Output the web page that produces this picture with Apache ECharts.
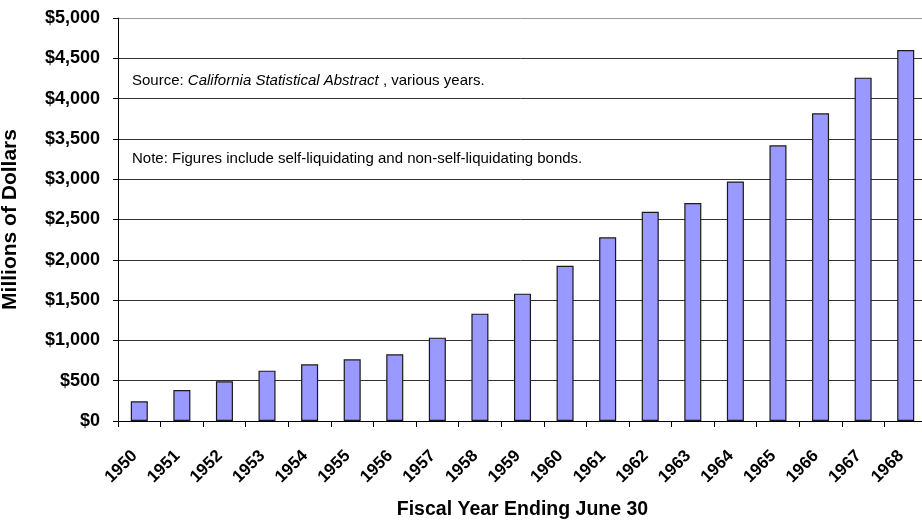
<!DOCTYPE html>
<html>
<head>
<meta charset="utf-8">
<script src="https://cdn.jsdelivr.net/npm/echarts@6/dist/echarts.min.js"></script>
<style>
  html, body { margin: 0; padding: 0; background: #fff; }
  #chart { width: 922px; height: 521px; }
</style>
</head>
<body>
<div id="chart"></div>
<script>
// Fiscal years (ending June 30)
const years = ['1950','1951','1952','1953','1954','1955','1956','1957','1958','1959',
               '1960','1961','1962','1963','1964','1965','1966','1967','1968'];
// Bonded debt outstanding, millions of dollars
const debt = [245, 385, 493, 625, 703, 765, 827, 1034, 1332, 1580,
              1927, 2279, 2597, 2705, 2972, 3420, 3817, 4260, 4603];
// Value axis ticks
const yMin = 0, yMax = 5000, yStep = 500;

const FONT = '"Liberation Sans", Arial, sans-serif';

const gridColors = [];
for (let v = yMin; v <= yMax; v += yStep) gridColors.push(v === yMax ? '#9a9a9a' : '#333');

const chart = echarts.init(document.getElementById('chart'), null, { renderer: 'canvas' });
chart.setOption({
  animation: false,
  backgroundColor: '#fff',
  grid: { left: 118, right: -5, top: 18, bottom: 100, containLabel: false, outerBoundsMode: 'none' },
  xAxis: {
    type: 'category',
    data: years,
    boundaryGap: true,
    name: 'Fiscal Year Ending June 30',
    nameLocation: 'middle',
    nameGap: 79,
    nameTextStyle: { fontFamily: FONT, fontWeight: 'bold', fontSize: 19.5, color: '#000', verticalAlign: 'top' },
    axisLine: { show: true, onZero: false, lineStyle: { color: '#000', width: 1 } },
    axisTick: { show: true, alignWithLabel: false, length: 6, inside: false, lineStyle: { color: '#000', width: 1, opacity: 1 } },
    axisLabel: {
      rotate: 45, margin: 10, interval: 0,
      formatter: v => '{y|' + v + '}',
      rich: { y: { padding: [25, 19, 0, 0], fontFamily: FONT, fontWeight: 'bold', fontSize: 17, color: '#000' } },
      fontFamily: FONT, fontWeight: 'bold', fontSize: 17, color: '#000'
    },
    splitLine: { show: false }
  },
  yAxis: {
    type: 'value',
    min: yMin, max: yMax, interval: yStep,
    name: 'Millions of Dollars',
    nameLocation: 'middle',
    nameGap: 97,
    nameRotate: 90,
    nameTextStyle: { fontFamily: FONT, fontWeight: 'bold', fontSize: 21, color: '#000' },
    axisLine: { show: true, lineStyle: { color: '#000', width: 1 } },
    axisTick: { show: true, length: 5, inside: false, lineStyle: { color: '#000' } },
    axisLabel: {
      margin: 18,
      fontFamily: FONT, fontWeight: 'bold', fontSize: 18, color: '#000',
      formatter: v => '$' + v.toLocaleString('en-US')
    },
    splitLine: { show: true, lineStyle: { color: gridColors, width: 1 } }
  },
  series: [{
    type: 'bar',
    data: debt,
    barWidth: '40%',
    itemStyle: { color: '#9999ff', borderColor: '#1a1a1a', borderWidth: 1.2 }
  }],
  graphic: [
    {
      type: 'text', x: 132, y: 80.5, silent: true,
      style: {
        text: '{n|Source: }{i|California Statistical Abstract}{n| , various years.}',
        verticalAlign: 'middle',
        rich: {
          n: { fontFamily: FONT, fontSize: 15, fill: '#000', color: '#000' },
          i: { fontFamily: FONT, fontSize: 15, fontStyle: 'italic', fill: '#000', color: '#000' }
        }
      }
    },
    {
      type: 'text', x: 132, y: 159, silent: true,
      style: {
        text: 'Note: Figures include self-liquidating and non-self-liquidating bonds.',
        verticalAlign: 'middle',
        fontFamily: FONT, fontSize: 15, fill: '#000'
      }
    }
  ]
});
</script>
</body>
</html>
